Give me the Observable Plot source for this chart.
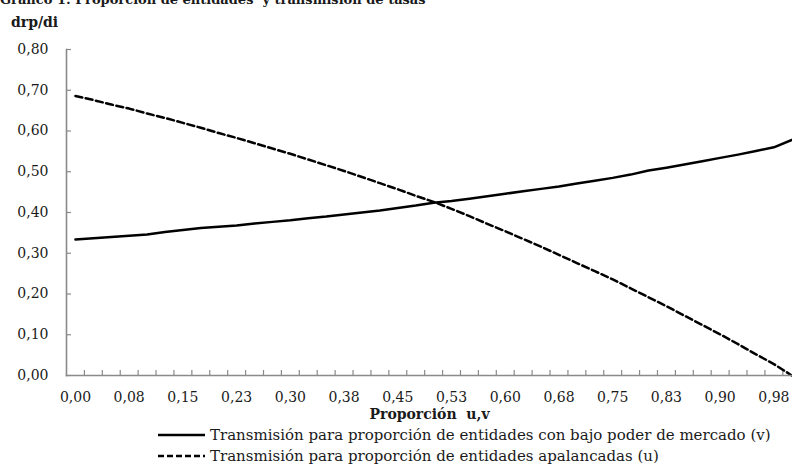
<!DOCTYPE html>
<html>
<head>
<meta charset="utf-8">
<script src="https://cdn.jsdelivr.net/npm/d3@7"></script>
<script src="https://cdn.jsdelivr.net/npm/@observablehq/plot@0.6"></script>
<style>
  html, body { margin: 0; padding: 0; }
  body { width: 792px; height: 476px; overflow: hidden; background: #fff; position: relative;
         font-family: "DejaVu Serif", serif; color: #1a1a1a; }
  #title { position: absolute; left: 0; top: -7px; font-weight: bold; font-size: 13px; line-height: 14px; white-space: pre; }
  #ylab { position: absolute; left: 11px; top: 15px; font-weight: bold; font-size: 14px; line-height: 14px; }
  #chart { position: absolute; left: 0; top: 0; }
  #legend { position: absolute; left: 158px; top: 424px; font-size: 15px; }
  .row { display: flex; align-items: center; height: 21px; white-space: nowrap; }
  .row svg { margin-right: 5px; }
</style>
</head>
<body>
<div id="title">Gráfico 1: Proporción de entidades  y transmisión de tasas</div>
<div id="ylab">drp/di</div>
<div id="chart"></div>
<div id="legend"></div>
<script>
// proportion u, v (categories)
const proporcion = [0, 0.025, 0.05, 0.075, 0.1, 0.125, 0.15, 0.175, 0.2, 0.225,
  0.25, 0.275, 0.3, 0.325, 0.35, 0.375, 0.4, 0.425, 0.45, 0.475,
  0.5, 0.525, 0.55, 0.575, 0.6, 0.625, 0.65, 0.675, 0.7, 0.725,
  0.75, 0.775, 0.8, 0.825, 0.85, 0.875, 0.9, 0.925, 0.95, 0.975, 1];
// transmission, low market power share (v)
const transV = [0.334, 0.337, 0.340, 0.343, 0.346, 0.352, 0.357, 0.362, 0.365, 0.368,
  0.373, 0.377, 0.381, 0.386, 0.390, 0.395, 0.400, 0.405, 0.411, 0.417,
  0.424, 0.428, 0.434, 0.440, 0.446, 0.452, 0.458, 0.464, 0.471, 0.478,
  0.485, 0.493, 0.503, 0.510, 0.518, 0.526, 0.534, 0.542, 0.551, 0.560, 0.578];
// transmission, leveraged share (u)
const transU = [0.686, 0.676, 0.665, 0.655, 0.643, 0.632, 0.620, 0.608, 0.595, 0.583,
  0.570, 0.557, 0.544, 0.530, 0.516, 0.502, 0.487, 0.472, 0.457, 0.441,
  0.426, 0.409, 0.391, 0.372, 0.354, 0.335, 0.316, 0.296, 0.276, 0.256,
  0.236, 0.214, 0.192, 0.170, 0.147, 0.124, 0.101, 0.077, 0.052, 0.028, 0.0];
const xTickValues = [0, 0.075, 0.15, 0.225, 0.3, 0.375, 0.45, 0.525, 0.6, 0.675, 0.75, 0.825, 0.9, 0.975];
const xTickLabels = ["0,00", "0,08", "0,15", "0,23", "0,30", "0,38", "0,45", "0,53", "0,60", "0,68", "0,75", "0,83", "0,90", "0,98"];
const yTickValues = [0, 0.1, 0.2, 0.3, 0.4, 0.5, 0.6, 0.7, 0.8];
const yTickLabels = ["0,00", "0,10", "0,20", "0,30", "0,40", "0,50", "0,60", "0,70", "0,80"];
const seriesNames = ["Transmisión para proporción de entidades con bajo poder de mercado (v)",
                     "Transmisión para proporción de entidades apalancadas (u)"];
const xTitle = "Proporción  u,v";

const halfStep = (proporcion[1] - proporcion[0]) / 2;
const boundaries = proporcion.map(p => p + halfStep);
const dataV = proporcion.map((p, i) => ({x: p, y: transV[i]}));
const dataU = proporcion.map((p, i) => ({x: p, y: transU[i]}));

const axisColor = "#8a8a8a";
const chart = Plot.plot({
  width: 792,
  height: 430,
  marginTop: 49,
  marginBottom: 55,
  marginLeft: 66,
  marginRight: 0,
  style: {fontFamily: "DejaVu Serif, serif", fontSize: "14px", color: "#1a1a1a", background: "transparent"},
  x: {domain: [proporcion[0] - halfStep, 1.001]},
  y: {domain: [0, 0.8]},
  marks: [
    Plot.frame({anchor: "left", stroke: axisColor, strokeWidth: 1.6}),
    Plot.axisY({ticks: yTickValues, tickSize: 5, dx: 5, fill: "none", stroke: axisColor, strokeWidth: 1.2, label: null}),
    Plot.axisY({ticks: yTickValues, tickSize: 0, tickPadding: 18,
      tickFormat: d => yTickLabels[yTickValues.indexOf(d)], label: null, fontSize: 14}),
    Plot.axisX({ticks: boundaries, tickSize: 5, dy: -5, fill: "none", stroke: axisColor, strokeWidth: 1.2, label: null}),
    Plot.axisX({ticks: xTickValues, tickSize: 0, tickPadding: 14, dy: 3,
      tickFormat: d => xTickLabels[xTickValues.indexOf(d)], label: null, fontSize: 14}),
    Plot.text([xTitle], {frameAnchor: "bottom", dy: 43, fontWeight: "bold", fontSize: 14}),
    Plot.line(dataU, {x: "x", y: "y", stroke: "#000", strokeWidth: 2.5, strokeDasharray: "7,3.5"}),
    Plot.line(dataV, {x: "x", y: "y", stroke: "#000", strokeWidth: 2.5}),
    Plot.frame({anchor: "bottom", stroke: axisColor, strokeWidth: 1.6})
  ]
});
document.getElementById("chart").appendChild(chart);

const legend = d3.select("#legend");
seriesNames.forEach((name, i) => {
  const row = legend.append("div").attr("class", "row");
  const s = row.append("svg").attr("width", 47).attr("height", 6);
  s.append("line").attr("x1", 0).attr("x2", 47).attr("y1", 3).attr("y2", 3)
    .attr("stroke", "#000").attr("stroke-width", 2.5)
    .attr("stroke-dasharray", i === 1 ? "6,3" : null);
  row.append("span").text(name);
});
</script>
</body>
</html>
